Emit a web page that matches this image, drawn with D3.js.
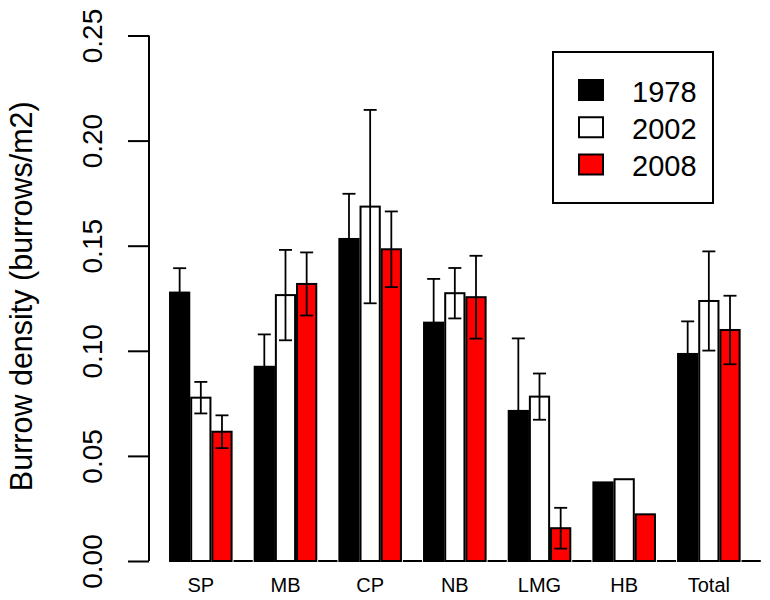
<!DOCTYPE html>
<html>
<head>
<meta charset="utf-8">
<script src="https://cdn.jsdelivr.net/npm/d3@7"></script>
<style>
  html, body { margin: 0; padding: 0; background: #fff; }
  svg { display: block; font-family: "Liberation Sans", Arial, sans-serif; }
</style>
</head>
<body>
<svg id="chart" width="770" height="600"></svg>
<script>
// ---- data ----
const categories = ["SP", "MB", "CP", "NB", "LMG", "HB", "Total"];
const years = ["1978", "2002", "2008"];
const values1978 = [0.1277, 0.0924, 0.1532, 0.1134, 0.0714, 0.0374, 0.0985];
const values2002 = [0.0777, 0.1265, 0.1686, 0.1274, 0.0782, 0.0389, 0.1237];
const values2008 = [0.0615, 0.1318, 0.1483, 0.1255, 0.0156, 0.0222, 0.1099];
const err1978 = [0.0116, 0.0154, 0.0215, 0.0208, 0.0345, 0, 0.0155];
const err2002 = [0.0075, 0.0215, 0.0460, 0.0120, 0.0110, 0, 0.0236];
const err2008 = [0.0078, 0.0150, 0.0180, 0.0197, 0.0097, 0, 0.0163];
const yTicks = [0, 0.05, 0.10, 0.15, 0.20, 0.25];
const yTickLabels = ["0.00", "0.05", "0.10", "0.15", "0.20", "0.25"];
const yLabel = "Burrow density (burrows/m2)";

const seriesValues = [values1978, values2002, values2008];
const seriesErrors = [err1978, err2002, err2008];
const fills = ["#000000", "#ffffff", "#ff0000"];

// ---- layout ----
const svg = d3.select("#chart");
const y = d3.scaleLinear().domain([0, 0.25]).range([561, 35.5]);
const xGroup = d3.scaleBand().domain(categories).range([168.1, 760.8]).padding(0);
const slots = [...years, "empty"];
const xSub = d3.scaleBand().domain(slots).range([0, xGroup.bandwidth()])
  .paddingInner(0.1 / 1.1).paddingOuter(0.05 / 1.1).align(1);

// empty 4th slot (zero-height bar -> baseline dash)
const gEmpty = svg.append("g");
categories.forEach(c => {
  const x0 = xGroup(c) + xSub("empty");
  gEmpty.append("line")
    .attr("x1", x0).attr("x2", x0 + xSub.bandwidth())
    .attr("y1", y(0)).attr("y2", y(0))
    .attr("stroke", "#000").attr("stroke-width", 2);
});

// bars
const gBars = svg.append("g");
years.forEach((yr, s) => {
  categories.forEach((c, i) => {
    const v = seriesValues[s][i];
    gBars.append("rect")
      .attr("x", xGroup(c) + xSub(yr))
      .attr("y", y(v))
      .attr("width", xSub.bandwidth())
      .attr("height", y(0) - y(v))
      .attr("fill", fills[s])
      .attr("stroke", "#000")
      .attr("stroke-width", 2);
  });
});

// error bars
const gErr = svg.append("g").attr("stroke", "#000").attr("stroke-width", 1.8);
const capHalf = 6.5;
years.forEach((yr, s) => {
  categories.forEach((c, i) => {
    const v = seriesValues[s][i], e = seriesErrors[s][i];
    if (!e) return;
    const cx = xGroup(c) + xSub(yr) + xSub.bandwidth() / 2;
    gErr.append("line").attr("x1", cx).attr("x2", cx)
      .attr("y1", y(v - e)).attr("y2", y(v + e));
    [v - e, v + e].forEach(t => {
      gErr.append("line").attr("x1", cx - capHalf).attr("x2", cx + capHalf)
        .attr("y1", y(t)).attr("y2", y(t));
    });
  });
});

// y axis
const yAxis = d3.axisLeft(y).tickValues(yTicks)
  .tickFormat((d, i) => yTickLabels[i]).tickSize(21).tickPadding(0);
const gY = svg.append("g").attr("transform", "translate(149,0)").call(yAxis);
gY.select(".domain").attr("d", `M-21,${y(0.25)}H0V${y(0)}H-21`).attr("stroke-width", 2)
  .attr("d", `M0,${y(0.25)}V${y(0)}`);
gY.selectAll(".tick line").attr("stroke-width", 2);
gY.selectAll(".tick text")
  .attr("x", 0).attr("y", 0)
  .attr("transform", "translate(-47,0) rotate(-90)")
  .attr("text-anchor", "middle")
  .attr("dy", 0)
  .attr("font-size", 28)
  .attr("fill", "#000")
  .style("font-family", "'Liberation Sans', Arial, sans-serif");

// y label
svg.append("text")
  .attr("transform", `translate(32,${(y(0) + y(0.25)) / 2 - 2}) rotate(-90)`)
  .attr("text-anchor", "middle")
  .attr("font-size", 30.5)
  .attr("fill", "#000")
  .text(yLabel);

// x labels (centered under the three bars)
categories.forEach(c => {
  const cx = xGroup(c) + (xSub("1978") + xSub("2008") + xSub.bandwidth()) / 2;
  svg.append("text")
    .attr("x", cx).attr("y", 592)
    .attr("text-anchor", "middle")
    .attr("font-size", 20)
    .attr("fill", "#000")
    .text(c);
});

// legend
const gLeg = svg.append("g");
gLeg.append("rect").attr("x", 553).attr("y", 52).attr("width", 160).attr("height", 151)
  .attr("fill", "#fff").attr("stroke", "#000").attr("stroke-width", 2);
const legRow = d3.scaleLinear().domain([0, 2]).range([90, 164.5]);
years.forEach((yr, s) => {
  const cy = legRow(s);
  gLeg.append("rect").attr("x", 579).attr("y", cy - 10).attr("width", 24).attr("height", 20)
    .attr("fill", fills[s]).attr("stroke", "#000").attr("stroke-width", 2);
  gLeg.append("text").attr("x", 632).attr("y", cy + 11.5)
    .attr("font-size", 29).attr("fill", "#000").text(yr);
});
</script>
</body>
</html>
